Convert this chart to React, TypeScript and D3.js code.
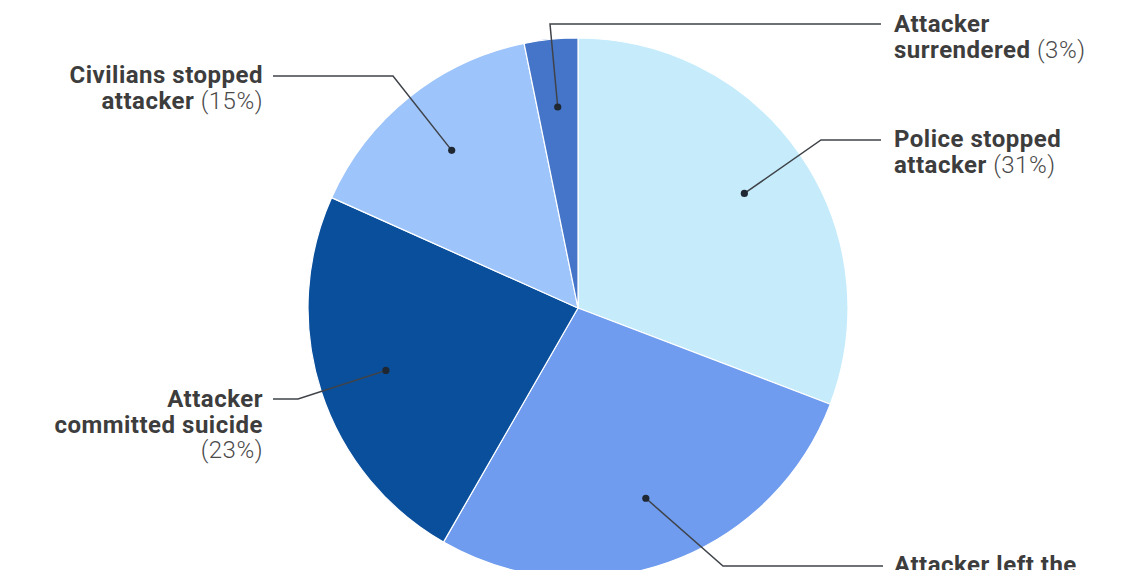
import React from "react";
import * as d3 from "d3";

const categories = [
  "Police stopped attacker",
  "Attacker left the scene",
  "Attacker committed suicide",
  "Civilians stopped attacker",
  "Attacker surrendered",
];
const values = [30.8, 27.5, 23.4, 15.1, 3.2];
const pctLabels = ["31%", "28%", "23%", "15%", "3%"];
const colors = ["#c6ecfc", "#6f9cee", "#0a4f9c", "#9ec5fb", "#4575c9"];
const labelBold = [
  ["Police stopped", "attacker"],
  ["Attacker left the", "scene"],
  ["Attacker", "committed suicide"],
  ["Civilians stopped", "attacker"],
  ["Attacker", "surrendered"],
];
const pctOwnLine = [false, false, true, false, false];

// layout for callouts (positions, not data)
const layout = [
  { side: "right", elbow: [821, 140], end: [881, 140], textX: 894, firstBase: 147 },
  { side: "right", elbow: [723, 566], end: [883, 566], textX: 894, firstBase: 573 },
  { side: "left", elbow: [298, 399], end: [273, 399], textX: 263, firstBase: 407 },
  { side: "left", elbow: [393, 76], end: [273, 76], textX: 263, firstBase: 83 },
  { side: "right", elbow: [550, 24], end: [881, 24], textX: 894, firstBase: 32 },
];

const W = 1140, H = 570;
const cx = 578, cy = 308, R = 270;
const lineH = 25.5;

export default function App() {
  const pie = d3.pie<number>().sort(null).startAngle(0).endAngle(2 * Math.PI);
  const arcs = pie(values);
  const arc = d3.arc<d3.PieArcDatum<number>>().innerRadius(0).outerRadius(R);
  const dotArc = d3.arc<d3.PieArcDatum<number>>().innerRadius(202).outerRadius(202);

  return (
    <svg width={W} height={H} style={{ position: "absolute", left: 0, top: 0, background: "#fff" }}
      fontFamily="Roboto, 'Open Sans', sans-serif">
      <g transform={`translate(${cx},${cy})`}>
        {arcs.map((a, i) => (
          <path key={i} d={arc(a) || ""} fill={colors[i]} stroke="#ffffff" strokeWidth={1.2} strokeLinejoin="round" />
        ))}
      </g>
      {arcs.map((a, i) => {
        const [dx, dy] = dotArc.centroid(a);
        const px = cx + dx, py = cy + dy;
        const L = layout[i];
        const pts = [[px, py], L.elbow, L.end];
        const anchor = L.side === "left" ? "end" : "start";
        const bold = labelBold[i];
        const pct = `(${pctLabels[i]})`;
        return (
          <g key={i}>
            <polyline points={pts.map((p) => p.join(",")).join(" ")} fill="none" stroke="#3f4349" strokeWidth={1.5} />
            <circle cx={px} cy={py} r={3.6} fill="#1f2733" />
            <text x={L.textX} y={L.firstBase} textAnchor={anchor} fontSize={24} letterSpacing={0.5} fill="#3d3d3d">
              {bold.map((b, j) => (
                <tspan key={j} x={L.textX} y={L.firstBase + j * lineH}>
                  <tspan fontWeight={700}>{b}</tspan>
                  {!pctOwnLine[i] && j === bold.length - 1 ? (
                    <tspan fontWeight={300} fill="#4a4a4a">{" " + pct}</tspan>
                  ) : null}
                </tspan>
              ))}
              {pctOwnLine[i] ? (
                <tspan x={L.textX} y={L.firstBase + bold.length * lineH} fontWeight={300} fill="#4a4a4a">{pct}</tspan>
              ) : null}
            </text>
          </g>
        );
      })}
    </svg>
  );
}
